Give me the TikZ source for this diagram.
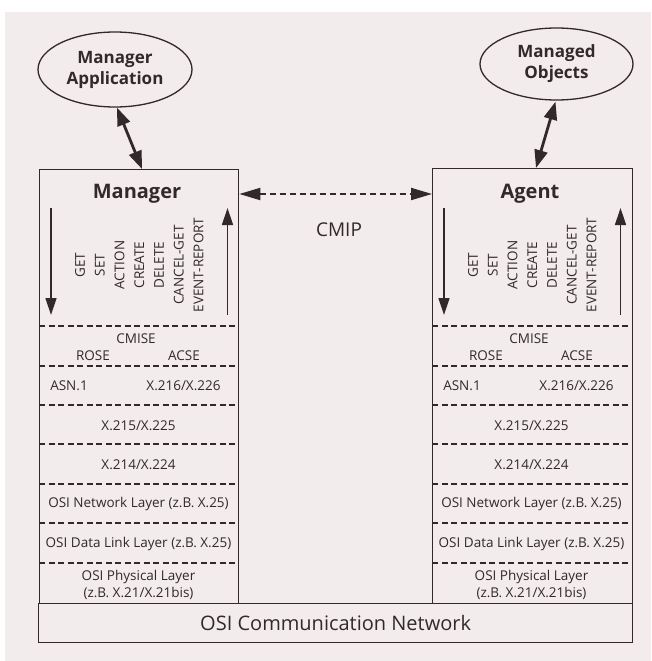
\documentclass[tikz,border=0pt]{standalone}
\usepackage{fontspec}
\setmainfont{Open Sans}
\usetikzlibrary{arrows.meta,shapes.geometric,calc}
\definecolor{bg}{RGB}{242,236,236}
\definecolor{ink}{RGB}{50,42,42}
\begin{document}
\begin{tikzpicture}[x=1pt,y=-1pt,
  every node/.style={text=ink},
  elli/.style={ellipse,draw=ink,line width=1.3pt,inner sep=0pt,align=center,font=\fontsize{17}{21}\selectfont\bfseries},
  boxnode/.style={draw=ink,line width=1.3pt,inner sep=0pt,anchor=north west},
  title/.style={font=\fontsize{20}{24}\selectfont\bfseries},
  vlabel/.style={rotate=90,font=\fontsize{13.5}{15}\selectfont,inner sep=0pt},
  layertext/.style={font=\fontsize{13.5}{16}\selectfont,inner sep=0pt,align=center},
  sep/.style={draw=ink,line width=1.1pt,dash pattern=on 6pt off 3.5pt},
  bigarrow/.style={draw=ink,line width=2.8pt,{Triangle[length=18pt,width=13pt]}-{Triangle[length=18pt,width=13pt]}},
  thinarrow/.style={draw=ink,line width=1.4pt,-{Triangle[length=17pt,width=11pt]}},
  cmiparrow/.style={draw=ink,line width=2pt,dash pattern=on 6pt off 4pt,{Triangle[length=21pt,width=12pt]}-{Triangle[length=21pt,width=12pt]}}
]
\useasboundingbox (0,0) rectangle (651,661);
\fill[bg] (5,12) rectangle (651,661);

% ellipses
\node[elli,minimum width=154pt,minimum height=75pt] (mapp) at (115,69.5) {Manager\\Application};
\node[elli,minimum width=153pt,minimum height=72pt] (mobj) at (556.5,64) {Managed\\Objects};

% stack boxes
\node[boxnode,minimum width=199pt,minimum height=434pt] (mgr) at (39,169) {};
\node[boxnode,minimum width=200pt,minimum height=435pt] (agt) at (432,168) {};
\node[boxnode,minimum width=594pt,minimum height=39pt] (net) at (38,603) {};
\node[font=\fontsize{20}{24}\selectfont] (nettext) at (net.center) {OSI Communication Network};

% contents of both boxes
\foreach \x/\name/\ttl in {39/m/Manager,432/a/Agent}{
  \node[title] (\name title) at (\x+98,194) {\ttl};
  \foreach \lab [count=\i from 0] in {GET,SET,ACTION,CREATE,DELETE,CANCEL-GET,EVENT-REPORT}{
    \node[vlabel] (\name v\i) at (\x+41+19.75*\i,265) {\lab};
  }
  \coordinate (\name dtop) at (\x+12,208);
  \coordinate (\name dbot) at (\x+12,315);
  \coordinate (\name utop) at (\x+188.5,208);
  \coordinate (\name ubot) at (\x+188.5,315);
  \draw[thinarrow] (\name dtop) -- (\name dbot);
  \draw[thinarrow] (\name ubot) -- (\name utop);
  \foreach \y in {326,366,405,444,484,523,563}{
    \draw[sep] (\x,\y) -- (\x+199.5,\y);
  }
  \node[layertext] (\name cmise) at (\x+97,339) {CMISE};
  \node[layertext] (\name rose) at (\x+54,356) {ROSE};
  \node[layertext] (\name acse) at (\x+145,356) {ACSE};
  \node[layertext] (\name asn) at (\x+30,386) {ASN.1};
  \node[layertext] (\name xa) at (\x+144.5,386) {X.216/X.226};
  \node[layertext] (\name xb) at (\x+99.5,425.5) {X.215/X.225};
  \node[layertext] (\name xc) at (\x+99.5,464.5) {X.214/X.224};
  \node[layertext] (\name nl) at (\x+99.5,504) {OSI Network Layer (z.B. X.25)};
  \node[layertext] (\name dl) at (\x+99.5,543.5) {OSI Data Link Layer (z.B. X.25)};
  \node[layertext,font=\fontsize{13.5}{17}\selectfont] (\name pl) at (\x+99.5,585) {OSI Physical Layer\\(z.B. X.21/X.21bis)};
}

% connectors
\draw[bigarrow] ($(mapp.south)+(2,0)$) -- ($(mgr.north west)+(103,0)$);
\draw[bigarrow] ($(mobj.south)+(-1,1)$) -- ($(agt.north west)+(104,0)$);
\draw[cmiparrow] (mgr.east |- mtitle) -- (agt.west |- mtitle);
\node[font=\fontsize{19}{22}\selectfont] (cmip) at (339,230) {CMIP};
\end{tikzpicture}
\end{document}
